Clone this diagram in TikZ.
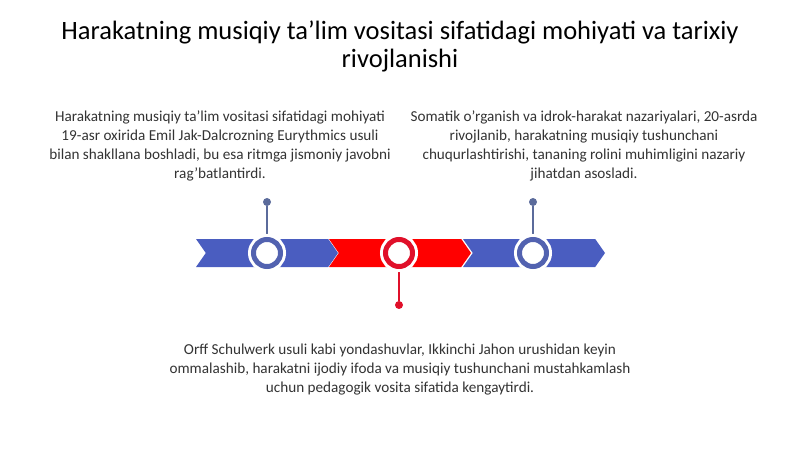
\documentclass[tikz,border=0pt]{standalone}
\usepackage{fontspec}
\setmainfont{Carlito}[Ligatures=Common]
\usetikzlibrary{shapes.symbols}

\definecolor{segblue}{HTML}{4A5DC0}
\definecolor{ringblue}{HTML}{5262B0}
\definecolor{pinblue}{HTML}{5B6B9B}
\definecolor{segred}{HTML}{FF0000}
\definecolor{ringred}{HTML}{E0102A}
\definecolor{txt}{HTML}{333333}

\begin{document}
\begin{tikzpicture}[x=1pt, y=-1pt,
  seg/.style = {signal, signal from=west, signal to=east, signal pointer angle=110,
                minimum width=142pt, minimum height=28pt, inner sep=0pt, outer sep=0pt, draw=none},
  ring/.style = {circle, fill=white, line width=5pt, minimum size=27pt, inner sep=0pt,
                 preaction={draw=white, line width=11pt}},
  dot/.style = {circle, inner sep=0pt, minimum size=8pt},
  pinline/.style = {line width=2pt},
  body/.style = {align=center, text=txt, font=\fontsize{15.2}{19}\selectfont},
  ]
  \useasboundingbox (0,0) rectangle (800,449);

  % title
  \node[align=center, text=black, font=\fontsize{26.5}{28}\selectfont] (title) at (400,46)
    {Harakatning musiqiy ta'lim vositasi sifatidagi mohiyati va tarixiy\\rivojlanishi};

  % timeline
  \node[seg, fill=segblue] (seg1) at (267,253) {};
  \node[seg, fill=segred]  (seg2) at (400,253) {};
  \node[seg, fill=segblue] (seg3) at (534,253) {};

  % pins
  \node[dot, fill=pinblue] (d1) at (267,202) {};
  \node[dot, fill=ringred] (d2) at (399,305) {};
  \node[dot, fill=pinblue] (d3) at (533,202) {};
  \draw[pinline, pinblue] (d1) -- (267,253);
  \draw[pinline, ringred] (d2) -- (399,253);
  \draw[pinline, pinblue] (d3) -- (533,253);

  % rings
  \node[ring, draw=ringblue] (r1) at (267,253) {};
  \node[ring, draw=ringred]  (r2) at (399,253) {};
  \node[ring, draw=ringblue] (r3) at (533,253) {};

  % texts
  \node[body] (t1) at (220,146)
    {Harakatning musiqiy ta'lim vositasi sifatidagi mohiyati\\
     19-asr oxirida Emil Jak-Dalcrozning Eurythmics usuli\\
     bilan shakllana boshladi, bu esa ritmga jismoniy javobni\\
     rag'batlantirdi.};
  \node[body] (t3) at (584,146)
    {Somatik o'rganish va idrok-harakat nazariyalari, 20-asrda\\
     rivojlanib, harakatning musiqiy tushunchani\\
     chuqurlashtirishi, tananing rolini muhimligini nazariy\\
     jihatdan asosladi.};
  \node[body] (t2) at (400,370)
    {Orff Schulwerk usuli kabi yondashuvlar, Ikkinchi Jahon urushidan keyin\\
     ommalashib, harakatni ijodiy ifoda va musiqiy tushunchani mustahkamlash\\
     uchun pedagogik vosita sifatida kengaytirdi.};
\end{tikzpicture}
\end{document}
